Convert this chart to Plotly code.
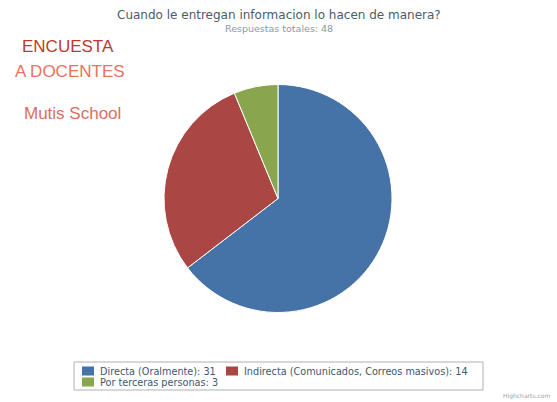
import plotly.graph_objects as go

# Survey answers: how information is delivered to teachers
categories = ["Directa (Oralmente)", "Indirecta (Comunicados, Correos masivos)", "Por terceras personas"]
counts = [31, 14, 3]
colors = ["#4572A7", "#AA4643", "#89A54E"]

total = sum(counts)
legend_names = [f"{c}: {v}" for c, v in zip(categories, counts)]

W, H = 557, 402


def px_x(x):
    return x / W


def px_y(y):
    return 1 - y / H


# pie centred at (278, 198) with radius 114 px
cx, cy, r = 278, 198.5, 114

fig = go.Figure(
    go.Pie(
        labels=legend_names,
        values=counts,
        marker=dict(colors=colors, line=dict(color="#FFFFFF", width=1)),
        sort=False,
        direction="clockwise",
        rotation=0,
        textinfo="none",
        hoverinfo="label+percent",
        showlegend=False,
        domain=dict(x=[px_x(cx - r), px_x(cx + r)], y=[px_y(cy + r), px_y(cy - r)]),
    )
)

annotations = [
    dict(text="Cuando le entregan informacion lo hacen de manera?",
         x=0.5, y=px_y(15), font=dict(family="DejaVu Sans", size=12, color="#4D5B69")),
    dict(text=f"Respuestas totales: {total}",
         x=0.5, y=px_y(28), font=dict(family="DejaVu Sans", size=9.5, color="#8A98A8")),
    dict(text="ENCUESTA", x=px_x(20), y=px_y(46), xanchor="left",
         font=dict(family="Liberation Sans", size=17, color="#C0392B")),
    dict(text="A DOCENTES", x=px_x(13), y=px_y(71.5), xanchor="left",
         font=dict(family="Liberation Sans", size=17, color="#E8735F")),
    dict(text="Mutis School", x=px_x(22), y=px_y(113), xanchor="left",
         font=dict(family="Liberation Sans", size=17, color="#D9705E")),
    dict(text="Highcharts.com", x=px_x(552), y=px_y(396), xanchor="right",
         font=dict(family="DejaVu Sans", size=6, color="#A0A0A0")),
]

# legend: bordered box, coloured squares and labels laid out in two rows
shapes = [
    dict(type="rect", xref="paper", yref="paper",
         x0=px_x(74), x1=px_x(483), y0=px_y(390), y1=px_y(362),
         line=dict(color="#B0B0B0", width=1), fillcolor="#FFFFFF", layer="below"),
]
slots = [(82, 371), (226, 371), (82, 382)]
for name, col, (lx, ly) in zip(legend_names, colors, slots):
    shapes.append(dict(type="rect", xref="paper", yref="paper",
                       x0=px_x(lx), x1=px_x(lx + 12), y0=px_y(ly + 4.5), y1=px_y(ly - 4.5),
                       line=dict(width=0), fillcolor=col))
    annotations.append(dict(text=name, x=px_x(lx + 16), y=px_y(ly), xanchor="left",
                            font=dict(family="DejaVu Sans", size=9.7, color="#3E576F")))

for a in annotations:
    a.setdefault("xref", "paper")
    a.setdefault("yref", "paper")
    a.setdefault("showarrow", False)
    a.setdefault("xanchor", "center")
    a.setdefault("yanchor", "middle")

fig.update_layout(
    width=W,
    height=H,
    margin=dict(l=0, r=0, t=0, b=0),
    paper_bgcolor="#FFFFFF",
    plot_bgcolor="#FFFFFF",
    showlegend=False,
    shapes=shapes,
    annotations=annotations,
)

fig.write_html("out.html")
